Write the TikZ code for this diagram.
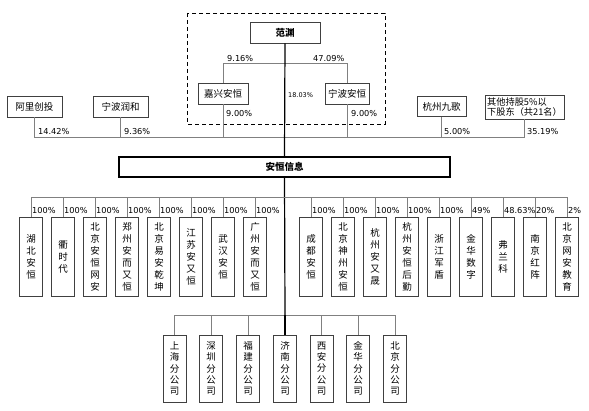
\documentclass[tikz,border=0pt]{standalone}
\usepackage{fontspec}
\setmainfont{DejaVu Sans}
\newfontfamily\cjk{Noto Sans CJK SC}
\definecolor{linec}{HTML}{808080}
\definecolor{boxc}{HTML}{404040}
\begin{document}
\begin{tikzpicture}[x=1pt,y=-1pt,
  box/.style={draw=boxc, line width=0.7pt, fill=white, inner sep=0pt, align=center,
    font=\cjk\fontsize{9.5}{12}\selectfont},
  vbox/.style={box, minimum width=22.5pt, minimum height=79pt},
  bbox/.style={box, minimum width=23pt, minimum height=67pt, font=\cjk\fontsize{9.5}{11.4}\selectfont},
  ln/.style={draw=linec, line width=0.8pt},
  spine/.style={draw=black, line width=1.2pt},
  pct/.style={inner sep=0pt, anchor=west, font=\fontsize{8.2}{9}\selectfont},
]
\useasboundingbox (0,0) rectangle (589,411);

% dashed group
\draw[black, line width=0.9pt, dash pattern=on 4pt off 3pt] (187,13) rectangle (385,124);

\node[box, minimum width=70pt, minimum height=21pt, font=\cjk\bfseries\fontsize{9.5}{12}\selectfont] (fy) at (285,32.5) {范渊};
\node[box, minimum width=50pt, minimum height=21pt] (jx) at (223,93.5) {嘉兴安恒};
\node[box, minimum width=44pt, minimum height=21pt] (nbah) at (347,93.5) {宁波安恒};
\coordinate (tb) at (0,63);
\draw[ln] (jx.north) -- (jx.north |- tb) -- (nbah.north |- tb) -- (nbah.north);

% other shareholders
\node[box, minimum width=55pt, minimum height=21pt] (al) at (34.5,106.5) {阿里创投};
\node[box, minimum width=55pt, minimum height=21pt] (rh) at (120.5,106.5) {宁波润和};
\node[box, minimum width=49pt, minimum height=20pt] (jg) at (441.5,106.5) {杭州九歌};
\node[box, minimum width=79pt, minimum height=24pt, align=left, font=\cjk\fontsize{9.2}{10.5}\selectfont] (qt) at (524.5,107) {其他持股5\%以\\下股东（共21名）};

\coordinate (bar) at (0,137);
\draw[ln] (al.south) -- (al.south |- bar) -- (qt.south |- bar) -- (qt.south);
\draw[ln] (rh.south) -- (rh.south |- bar);
\draw[ln] (jx.south) -- (jx.south |- bar);
\draw[ln] (nbah.south) -- (nbah.south |- bar);
\draw[ln] (jg.south) -- (jg.south |- bar);

% main company
\node[draw=black, line width=1.5pt, fill=white, inner sep=0pt, minimum width=331pt, minimum height=20pt,
  font=\cjk\bfseries\fontsize{9.5}{12}\selectfont] (ah) at (284.5,167) {安恒信息};
\coordinate (br) at (285,315);
\draw[spine] (fy.south) -- (ah.north);
\draw[spine] (ah.south) -- (br);

% top labels
\node[pct] (l1) at (227,59) {9.16\%};
\node[pct] (l2) at (313,59) {47.09\%};
\node[pct, font=\fontsize{6.5}{8}\selectfont] (l3) at (288,95) {18.03\%};
\node[pct] (l4) at (226,114) {9.00\%};
\node[pct] (l5) at (351,114) {9.00\%};
\node[pct] (l6) at (38,131.5) {14.42\%};
\node[pct] (l7) at (124,131.5) {9.36\%};
\node[pct] (l8) at (444,131.5) {5.00\%};
\node[pct] (l9) at (527,131.5) {35.19\%};

% subsidiaries
\coordinate (sb) at (0,197);
\foreach \n/\x/\t/\p in {
  s1/31/{湖\\北\\安\\恒}/100\%,
  s2/63/{衢\\时\\代}/100\%,
  s3/95/{北\\京\\安\\恒\\网\\安}/100\%,
  s4/127/{郑\\州\\安\\而\\又\\恒}/100\%,
  s5/159/{北\\京\\易\\安\\乾\\坤}/100\%,
  s6/191/{江\\苏\\安\\又\\恒}/100\%,
  s7/223/{武\\汉\\安\\恒}/100\%,
  s8/255/{广\\州\\安\\而\\又\\恒}/100\%,
  r1/311/{成\\都\\安\\恒}/100\%,
  r2/343/{北\\京\\神\\州\\安\\恒}/100\%,
  r3/375/{杭\\州\\安\\又\\晟}/100\%,
  r4/407/{杭\\州\\安\\恒\\后\\勤}/100\%,
  r5/439/{浙\\江\\军\\盾}/100\%,
  r6/471/{金\\华\\数\\字}/49\%,
  r7/503/{弗\\兰\\科}/48.63\%,
  r8/535/{南\\京\\红\\阵}/20\%,
  r9/567/{北\\京\\网\\安\\教\\育}/2\%}{
  \node[vbox] (\n) at (\x,256.5) {\t};
  \draw[ln] (\n.north) -- (\n.north |- sb);
  \node[pct] (p\n) at (\x+1,211) {\p};
}
\draw[ln] (s1.north |- sb) -- (r9.north |- sb);

% branches
\coordinate (bb) at (0,315);
\foreach \n/\x/\t in {
  b1/174.5/{上\\海\\分\\公\\司},
  b2/211/{深\\圳\\分\\公\\司},
  b3/248/{福\\建\\分\\公\\司},
  b4/285/{济\\南\\分\\公\\司},
  b5/321.5/{西\\安\\分\\公\\司},
  b6/358/{金\\华\\分\\公\\司},
  b7/395/{北\\京\\分\\公\\司}}{
  \node[bbox] (\n) at (\x,368.5) {\t};
  \draw[ln] (\n.north) -- (\n.north |- bb);
}
\draw[ln] (b1.north |- bb) -- (b7.north |- bb);
\draw[spine] (b4.north) -- (br);
\end{tikzpicture}
\end{document}
